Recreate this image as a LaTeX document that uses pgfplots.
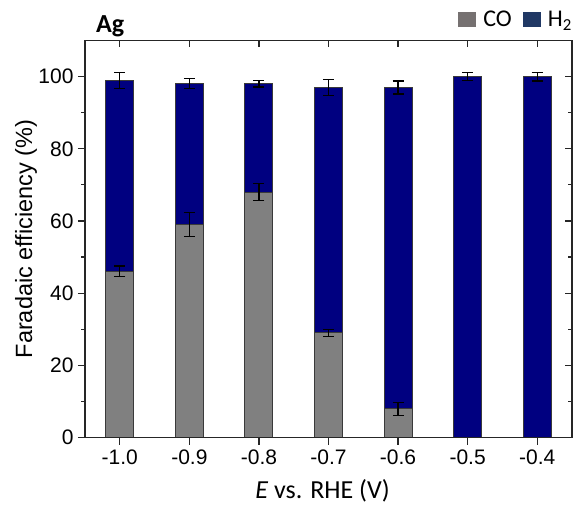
\documentclass[border=0pt]{standalone}
\usepackage{pgfplots}
\pgfplotsset{compat=1.18}
\usepackage{pgfplotstable}
\usepackage{fontspec}
\setmainfont{Liberation Sans}
\newfontfamily\calibri{Carlito}

\definecolor{coBar}{HTML}{808080}
\definecolor{hBar}{HTML}{000080}
\definecolor{coKey}{HTML}{767171}
\definecolor{hKey}{HTML}{203864}
\definecolor{barEdge}{HTML}{3A3A3A}

% potential index, CO and H2 faradaic efficiencies with their errors
\pgfplotstableread{
x  CO  COerr  H2   toterr
0  46  1.5    53   2.2
1  59  3.4    39   1.4
2  68  2.4    30   0.9
3  29  1.0    68   2.2
4  8   1.8    89   1.8
5  0   0      100  1.1
6  0   0      100  1.2
}\fedata

\begin{document}
\begin{tikzpicture}
\pgfplotsset{
  common/.style={
    scale only axis,
    width=487pt, height=397pt,
    xmin=-0.5, xmax=6.5,
    ymin=0, ymax=110,
    xtick={0,...,6},
    ytick={0,20,...,100},
    minor y tick num=1,
    axis line style={line width=1.4pt, black!85},
    major tick style={line width=1.2pt, black!85},
    minor tick style={line width=1.2pt, black!85},
  }
}
\begin{axis}[
  common,
  ybar stacked,
  bar width=28pt,
  tick align=outside,
  xtick pos=left, ytick pos=left,
  major tick length=7pt, minor tick length=3.5pt,
  xticklabels={-1.0,-0.9,-0.8,-0.7,-0.6,-0.5,-0.4},
  /pgf/number format/assume math mode=true,
  ticklabel style={font=\fontsize{21}{24}\selectfont},
  xticklabel style={yshift=-2pt},
  yticklabel style={xshift=-1pt},
  xlabel={\calibri\fontsize{26}{30}\selectfont\textit{E} vs. RHE (V)},
  xlabel style={at={(axis description cs:0.5,0)}, anchor=base, yshift=-60.5pt, xshift=-6pt},
  ylabel={Faradaic efficiency (\%)},
  ylabel style={font=\fontsize{23.5}{28}\selectfont, at={(axis description cs:0,0.5)}, anchor=center, yshift=59pt},
  error bars/error bar style={line width=1.2pt, black},
  error bars/error mark options={rotate=90, mark size=5.5pt, line width=1.2pt, black},
]
\addplot+[fill=coBar, draw=barEdge, line width=1pt,
  error bars/.cd, y dir=both, y explicit]
  table[x=x, y=CO, y error=COerr] {\fedata};
\addplot+[fill=hBar, draw=barEdge, line width=1pt,
  error bars/.cd, y dir=both, y explicit]
  table[x=x, y=H2, y error=toterr] {\fedata};
\end{axis}

\begin{axis}[
  common,
  tick align=inside,
  xtick pos=right, ytick pos=right,
  major tick length=7pt, minor tick length=4pt,
  xticklabels={}, yticklabels={},
  legend style={draw=none, fill=none, at={(1,1)}, anchor=south east,
    yshift=10pt, xshift=2pt, inner sep=0pt,
    font=\calibri\fontsize{24}{26}\selectfont,
    /tikz/every odd column/.append style={column sep=5pt},
    /tikz/every even column/.append style={column sep=9pt}},
  legend columns=2,
  legend image code/.code={\fill (0pt,-7pt) rectangle (18pt,8pt);},
]
\addlegendimage{fill=coKey, draw=none}
\addlegendentry{CO}
\addlegendimage{fill=hKey, draw=none}
\addlegendentry{H\textsubscript{2}}
\end{axis}

\node[anchor=base west, inner sep=0pt, font=\calibri\bfseries\fontsize{26}{30}\selectfont]
  at (11pt,404.5pt) {Ag};

\pgfresetboundingbox
\path[use as bounding box] (-85pt,-77.5pt) rectangle (491pt,437.5pt);
\end{tikzpicture}
\end{document}
